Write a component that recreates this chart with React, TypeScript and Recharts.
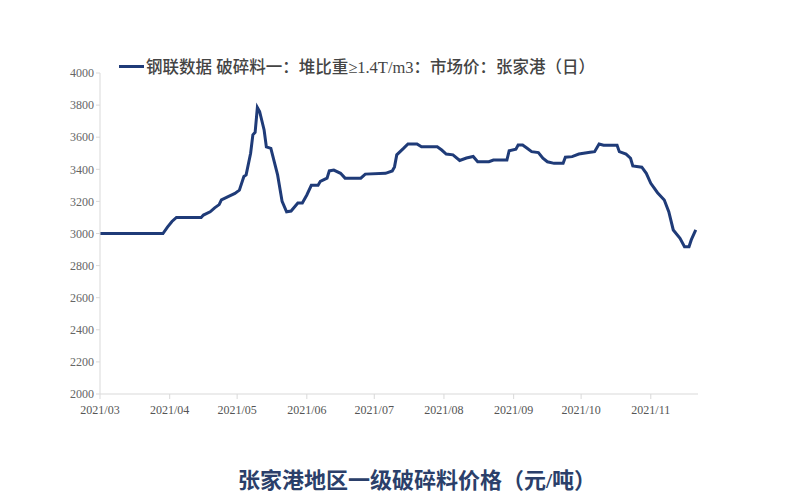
import React from "react";
import { LineChart, Line, XAxis, YAxis } from "recharts";

const dates: string[] = [
  "2021-03-01","2021-03-29","2021-03-31","2021-04-02","2021-04-04","2021-04-15","2021-04-16","2021-04-19",
  "2021-04-21","2021-04-23","2021-04-24","2021-04-27","2021-04-30","2021-05-02","2021-05-04","2021-05-05",
  "2021-05-07","2021-05-08","2021-05-09","2021-05-10","2021-05-11","2021-05-13","2021-05-14","2021-05-16",
  "2021-05-19","2021-05-21","2021-05-23","2021-05-25","2021-05-28","2021-05-30","2021-06-01","2021-06-03",
  "2021-06-06","2021-06-07","2021-06-10","2021-06-11","2021-06-13","2021-06-16","2021-06-18","2021-06-25",
  "2021-06-27","2021-07-06","2021-07-09","2021-07-10","2021-07-11","2021-07-14","2021-07-16","2021-07-20",
  "2021-07-22","2021-07-29","2021-07-31","2021-08-02","2021-08-05","2021-08-08","2021-08-11","2021-08-14",
  "2021-08-16","2021-08-21","2021-08-23","2021-08-29","2021-08-30","2021-09-02","2021-09-03","2021-09-05",
  "2021-09-07","2021-09-09","2021-09-12","2021-09-14","2021-09-16","2021-09-19","2021-09-23","2021-09-24",
  "2021-09-27","2021-09-30","2021-10-05","2021-10-07","2021-10-09","2021-10-11","2021-10-17","2021-10-18",
  "2021-10-21","2021-10-23","2021-10-24","2021-10-28","2021-10-30","2021-11-01","2021-11-04","2021-11-07",
  "2021-11-09","2021-11-11","2021-11-14","2021-11-16","2021-11-18","2021-11-19","2021-11-21"
];

const prices: number[] = [
  3000,3000,3040,3075,3100,3100,3115,3135,
  3160,3180,3210,3230,3250,3270,3355,3365,
  3500,3615,3630,3785,3760,3645,3540,3530,
  3365,3200,3135,3140,3190,3190,3240,3300,
  3300,3325,3345,3390,3395,3375,3345,3345,
  3370,3375,3390,3415,3490,3530,3558,3558,
  3540,3540,3520,3495,3490,3455,3470,3480,
  3447,3447,3458,3458,3516,3525,3551,3551,
  3531,3510,3504,3469,3447,3437,3437,3475,
  3479,3495,3506,3510,3558,3550,3550,3510,
  3495,3469,3421,3413,3375,3313,3254,3209,
  3136,3022,2970,2918,2918,2960,3022
];

const monthTicks: string[] = [
  "2021-03-01","2021-04-01","2021-05-01","2021-06-01","2021-07-01",
  "2021-08-01","2021-09-01","2021-10-01","2021-11-01"
];
const monthLabels: string[] = [
  "2021/03","2021/04","2021/05","2021/06","2021/07","2021/08","2021/09","2021/10","2021/11"
];
const yTicks: number[] = [2000,2200,2400,2600,2800,3000,3200,3400,3600,3800,4000];

const seriesName = "钢联数据 破碎料一：堆比重≥1.4T/m3：市场价：张家港（日）";
const caption = "张家港地区一级破碎料价格（元/吨）";

const toDay = (s: string) => {
  const [y, m, d] = s.split("-").map(Number);
  return (Date.UTC(y, m - 1, d) - Date.UTC(2021, 2, 1)) / 86400000;
};

const data = dates.map((d, i) => ({ day: toDay(d), price: prices[i] }));
const tickDays = monthTicks.map(toDay);

const serif = "'Liberation Serif', 'Times New Roman', 'Noto Sans CJK SC', serif";
const navy = "#1f3b78";

export default function App() {
  return (
    <div style={{ position: "absolute", left: 0, top: 0, width: 800, height: 500, background: "#fff" }}>
      <LineChart width={800} height={500} data={data} margin={{ top: 73, right: 102, left: 0, bottom: 0 }}>
        <XAxis
          dataKey="day"
          type="number"
          domain={[0, 266]}
          ticks={tickDays}
          interval={0}
          tickFormatter={(v: number) => monthLabels[tickDays.indexOf(v)] ?? ""}
          height={106}
          stroke="#d9d9d9"
          tickSize={5}
          tickMargin={6}
          tick={{ fill: "#555", fontSize: 12, fontFamily: serif }}
        />
        <YAxis
          type="number"
          domain={[2000, 4000]}
          ticks={yTicks}
          interval={0}
          width={100}
          stroke="#d9d9d9"
          tickSize={4}
          tick={{ fill: "#666", fontSize: 12, fontFamily: serif }}
        />
        <Line
          type="linear"
          dataKey="price"
          stroke={navy}
          strokeWidth={3}
          dot={false}
          isAnimationActive={false}
        />
      </LineChart>
      <div style={{ position: "absolute", left: 119, top: 54, display: "flex", alignItems: "center", whiteSpace: "nowrap" }}>
        <div style={{ width: 25, height: 3, background: navy, marginRight: 2 }} />
        <span style={{ fontFamily: serif, fontSize: 16.5, color: "#444", fontWeight: 500 }}>{seriesName}</span>
      </div>
      <div style={{ position: "absolute", left: 238, top: 462, whiteSpace: "nowrap", fontFamily: serif, fontSize: 22, fontWeight: 700, color: "#2b3f6a" }}>
        {caption}
      </div>
    </div>
  );
}
